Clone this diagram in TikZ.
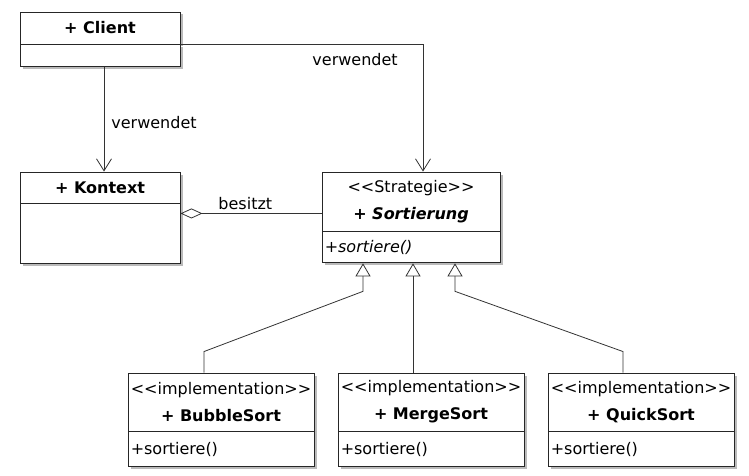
\documentclass[tikz,border=0pt]{standalone}
\usepackage{fontspec}
\setmainfont{DejaVu Sans}
\usepackage{tikz}
\usetikzlibrary{arrows.meta, positioning, shadows}
\tikzset{%
  classhead/.style={rectangle, draw=black!85, line width=0.9pt, fill=white, align=center, inner sep=1pt,
    font=\fontsize{16}{27}\selectfont,
    drop shadow={shadow xshift=2.5pt, shadow yshift=-2.5pt, fill=black!45, opacity=0.6}},
  classbody/.style={classhead},
  oper/.style={anchor=west, inner sep=0pt, font=\fontsize{16}{18}\selectfont},
  rolelabel/.style={inner sep=2pt, text=black, font=\fontsize{16}{18}\selectfont},
  line/.style={draw, black!80, line width=0.8pt},
  uses/.style={line, -{Straight Barb[length=12pt, width=15pt]}},
  owns/.style={line, -{Diamond[open, length=22pt, width=10pt]}},
  inherits/.style={line, -{Triangle[open, length=13pt, width=15pt]}}}

\begin{document}
\begin{tikzpicture}[x=1pt, y=-1pt]
    \useasboundingbox (0, 0) rectangle (749, 476);

    \node [classhead, minimum width=160, minimum height=32] (client) at (100, 28) {\textbf{+ Client}};
    \node [classbody, minimum width=160, minimum height=22, below=0pt of client] (client-body) {};

    \node [classhead, minimum width=160, minimum height=31] (kontext) at (100, 187.5) {\textbf{+ Kontext}};
    \node [classbody, minimum width=160, minimum height=60, below=0pt of kontext] (kontext-body) {};

    \node [classhead, minimum width=178, minimum height=59] (strategie) at (411, 201.5)
      {<{}<Strategie>{}>\\ \textbf{\textit{+ Sortierung}}};
    \node [classbody, minimum width=178, minimum height=31, below=0pt of strategie] (strategie-body) {};
    \node [oper] (strategie-op) at ([xshift=3pt]strategie-body.west) {\textit{+sortiere()}};

    \foreach \name/\title/\x in {bubble/BubbleSort/221, merge/MergeSort/431, quick/QuickSort/641} {
      \node [classhead, minimum width=186, minimum height=58] (\name) at (\x, 402)
        {<{}<implementation>{}>\\ \textbf{+ \title}};
      \node [classbody, minimum width=186, minimum height=35, below=0pt of \name] (\name-body) {};
      \node [oper] (\name-op) at ([xshift=3pt]\name-body.west) {+sortiere()};
    }

    % associations
    \path [uses] ([xshift=4pt]client-body.south) -- node [rolelabel, right=5pt, yshift=-3pt] {verwendet}
      ([xshift=4pt]kontext.north);
    \path [uses] (client.south east) -| node [rolelabel, pos=0.36, below=6pt] {verwendet}
      ([xshift=12pt]strategie.north);

    \coordinate (kontext-agg) at ([yshift=-10pt]kontext-body.north east);
    \path [owns] (strategie.west |- kontext-agg) -- node [rolelabel, pos=0.54, above=1pt] {besitzt} (kontext-agg);

    % generalizations
    \path [inherits] ([xshift=-17pt]bubble.north) -- ++(0, -21)
      -- ([xshift=-48pt, yshift=-28pt]strategie-body.south) -- ([xshift=-48pt]strategie-body.south);
    \path [inherits] ([xshift=-18pt]merge.north) -- ([xshift=2pt]strategie-body.south);
    \path [inherits] ([xshift=-18pt]quick.north) -- ++(0, -21)
      -- ([xshift=44pt, yshift=-28pt]strategie-body.south) -- ([xshift=44pt]strategie-body.south);
  \end{tikzpicture}
\end{document}
